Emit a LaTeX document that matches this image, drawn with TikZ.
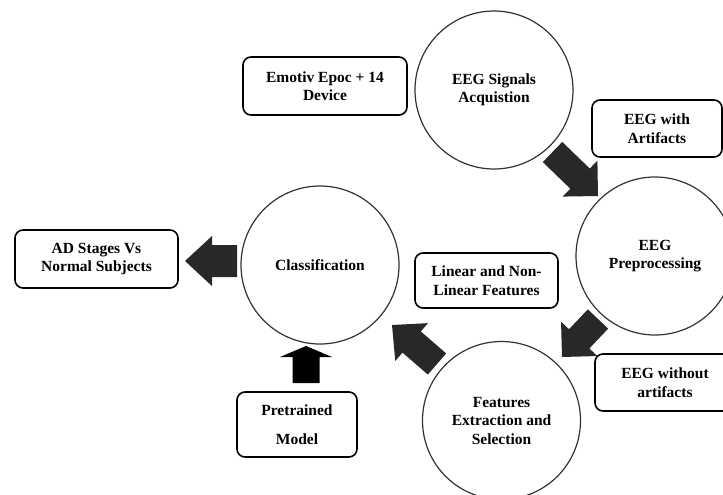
\documentclass[tikz,border=0pt]{standalone}
\usepackage{fontspec}
\setmainfont{Liberation Serif}
\usetikzlibrary{calc}
\definecolor{arrowgray}{RGB}{40,40,40}
\definecolor{circgray}{RGB}{50,50,50}
\newcommand\fatarrow[6]{% #1 style, #2 tail, #3 tip, #4 shaft half, #5 head half, #6 head length
  \coordinate (fa-b) at ($(#3)!#6!(#2)$);
  \fill[#1] ($(#2)!#4!90:(#3)$) -- ($(fa-b)!#4!90:(#3)$) -- ($(fa-b)!#5!90:(#3)$) -- (#3)
    -- ($(fa-b)!#5!-90:(#3)$) -- ($(fa-b)!#4!-90:(#3)$) -- ($(#2)!#4!-90:(#3)$) -- cycle;}
\tikzset{
  txt/.style={font=\bfseries\fontsize{15.5}{18.5}\selectfont, align=center},
  stage/.style={txt, circle, draw=circgray, line width=1.2pt, minimum size=158pt, inner sep=0pt},
  infobox/.style={txt, draw=black, line width=1.6pt, rounded corners=8pt, inner sep=0pt},
}
\begin{document}
\begin{tikzpicture}[x=1pt, y=-1pt]
\useasboundingbox (0,0) rectangle (723,495);
\clip (0,0) rectangle (723,495);
% stages
\node[stage] (acq) at (494,90) {EEG Signals\\Acquistion};
\node[stage] (pre) at (655,256) {EEG\\Preprocessing};
\node[stage] (cls) at (320,265) {Classification};
\node[stage] (fea) at (501.5,420.5) {Features\\Extraction and\\Selection};
% boxes
\node[infobox, minimum width=164pt, minimum height=58pt] (emo) at (325,86) {Emotiv Epoc + 14\\Device};
\node[infobox, minimum width=130pt, minimum height=57pt] (wart) at (657,128.5) {EEG with\\Artifacts};
\node[infobox, minimum width=163pt, minimum height=58pt] (ad) at (96.5,259) {AD Stages Vs\\Normal Subjects};
\node[infobox, minimum width=143pt, minimum height=55pt] (lin) at (486.5,280.5) {Linear and Non-\\Linear Features};
\node[infobox, minimum width=140pt, minimum height=57pt] (woart) at (665,382.5) {EEG without\\artifacts};
\node[infobox, minimum width=120pt, minimum height=65pt] (pm) at (297,424.5) {Pretrained\\[11pt]Model};
% arrow end points
\coordinate (a1s) at (552.5,152); \coordinate (a1e) at (598,196);
\coordinate (a2s) at (598,319);   \coordinate (a2e) at (562,357);
\coordinate (a3s) at (437,364);   \coordinate (a3e) at (392,325);
\coordinate (a4s) at (237,261);   \coordinate (a4e) at (185,261);
\coordinate (a5s) at (306,383);   \coordinate (a5e) at (306,346);
\fatarrow{arrowgray}{a1s}{a1e}{14pt}{25pt}{25pt}
\fatarrow{arrowgray}{a2s}{a2e}{14pt}{25pt}{25pt}
\fatarrow{arrowgray}{a3s}{a3e}{14pt}{25pt}{26pt}
\fatarrow{arrowgray}{a4s}{a4e}{16pt}{25pt}{27pt}
\fatarrow{black}{a5s}{a5e}{13.5pt}{26pt}{11pt}
\end{tikzpicture}
\end{document}
